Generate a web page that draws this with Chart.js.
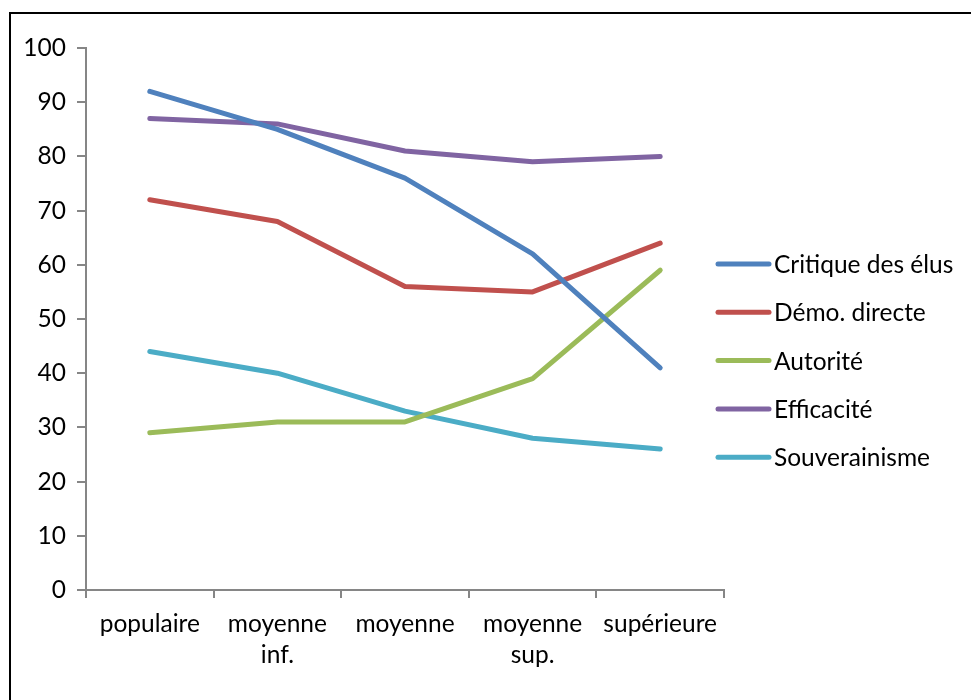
<!DOCTYPE html>
<html>
<head>
<meta charset="utf-8">
<script src="https://cdn.jsdelivr.net/npm/chart.js@4"></script>
<style>
  body { margin: 0; background: #fff; }
  #wrap { position: absolute; left: 0; top: 0; width: 971px; height: 700px; }
  #frame { position: absolute; left: 9px; top: 12px; width: 1000px; height: 720px; border: 2px solid #000; pointer-events: none; }
</style>
</head>
<body>
<div id="wrap"><canvas id="chart" width="971" height="700"></canvas></div>
<div id="frame"></div>
<script>
// categories and series
const categories = ['populaire', ['moyenne', 'inf.'], 'moyenne', ['moyenne', 'sup.'], 'supérieure'];
const seriesNames = ['Critique des élus', 'Démo. directe', 'Autorité', 'Efficacité', 'Souverainisme'];
const critique = [92, 85, 76, 62, 41];
const demo = [72, 68, 56, 55, 64];
const autorite = [29, 31, 31, 39, 59];
const efficacite = [87, 86, 81, 79, 80];
const souverainisme = [44, 40, 33, 28, 26];
const colors = ['#4F81BD', '#C0504D', '#9BBB59', '#8064A2', '#4BACC6'];

const FONT = 'Lato';
const FSIZE = 24.5;

// legend drawn by hand so it can sit over the right end of the axis
const sideLegend = {
    id: 'sideLegend',
    afterDraw(chart) {
        const ctx = chart.ctx;
        ctx.save();
        ctx.font = FSIZE + 'px ' + FONT;
        ctx.textBaseline = 'middle';
        ctx.fillStyle = '#000';
        chart.data.datasets.forEach((ds, i) => {
            const y = 264 + i * 48.3;
            ctx.strokeStyle = ds.borderColor;
            ctx.lineWidth = 5;
            ctx.lineCap = 'round';
            ctx.beginPath();
            ctx.moveTo(718, y);
            ctx.lineTo(769, y);
            ctx.stroke();
            ctx.fillText(ds.label, 774, y + 1);
        });
        ctx.restore();
    }
};

const allSeries = [critique, demo, autorite, efficacite, souverainisme];

new Chart(document.getElementById('chart'), {
    type: 'line',
    data: {
        labels: categories,
        datasets: allSeries.map((vals, i) => ({
            label: seriesNames[i],
            data: vals,
            borderColor: colors[i],
            backgroundColor: colors[i],
            borderWidth: 5,
            pointRadius: 0,
            pointHoverRadius: 0,
            tension: 0,
            borderJoinStyle: 'round',
            borderCapStyle: 'round'
        }))
    },
    options: {
        responsive: false,
        animation: false,
        layout: { padding: { left: 0, top: 48, right: 247, bottom: 0 } },
        plugins: {
            legend: { display: false },
            tooltip: { enabled: false }
        },
        scales: {
            y: {
                min: 0,
                max: 100,
                ticks: { stepSize: 10, color: '#000', padding: 11, font: { family: FONT, size: FSIZE } },
                grid: { drawOnChartArea: false, drawTicks: true, tickLength: 9, color: '#868686', lineWidth: 2 },
                border: { color: '#868686', width: 2 },
                afterFit(scale) { scale.width = 86; }
            },
            x: {
                offset: true,
                ticks: { color: '#000', padding: 11, autoSkip: false, maxRotation: 0, font: { family: FONT, size: FSIZE, lineHeight: 1.25 } },
                grid: { offset: true, drawOnChartArea: false, drawTicks: true, tickLength: 8, color: '#868686', lineWidth: 2 },
                border: { color: '#868686', width: 2 },
                afterFit(scale) { scale.height = 110; }
            }
        }
    },
    plugins: [sideLegend]
});
</script>
</body>
</html>
